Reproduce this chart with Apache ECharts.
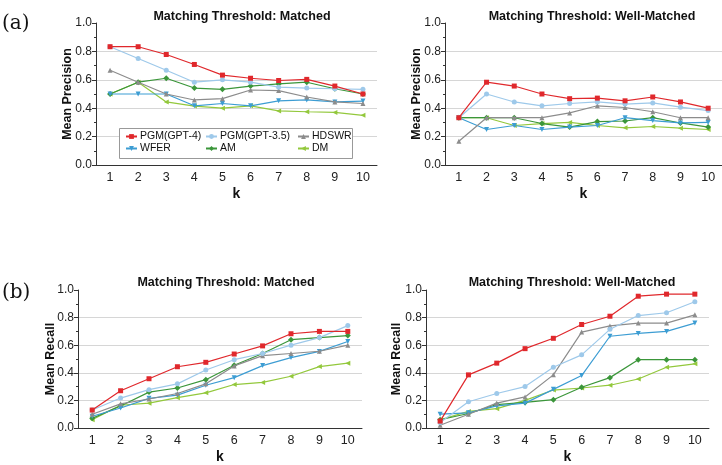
<!DOCTYPE html>
<html><head><meta charset="utf-8">
<script src="https://cdn.jsdelivr.net/npm/echarts@6/dist/echarts.min.js"></script>
<style>html,body{margin:0;padding:0;background:#fff}#c{width:722px;height:465px}</style>
</head><body><div id="c"></div>
<script>
// ---------- data ----------
const kLabels = ['1','2','3','4','5','6','7','8','9','10'];
const methodNames = ['PGM(GPT-4)','PGM(GPT-3.5)','HDSWR','WFER','AM','DM'];
const panelTitles = ['Matching Threshold: Matched','Matching Threshold: Well-Matched','Matching Threshold: Matched','Matching Threshold: Well-Matched'];
const yNames = ['Mean Precision','Mean Precision','Mean Recall','Mean Recall'];
const yTickLabels = ['0.0','0.2','0.4','0.6','0.8','1.0'];

// Precision, Matched
const precM_PGM4  = [0.833,0.833,0.778,0.708,0.633,0.611,0.595,0.603,0.556,0.500];
const precM_PGM35 = [0.833,0.750,0.667,0.583,0.600,0.583,0.548,0.542,0.537,0.533];
const precM_HDSWR = [0.667,0.583,0.500,0.458,0.467,0.528,0.524,0.479,0.444,0.433];
const precM_WFER  = [0.500,0.500,0.500,0.417,0.433,0.417,0.452,0.458,0.444,0.450];
const precM_AM    = [0.500,0.583,0.611,0.542,0.533,0.556,0.571,0.583,0.537,0.500];
const precM_DM    = [0.500,0.583,0.444,0.415,0.400,0.417,0.381,0.375,0.370,0.350];
// Precision, Well-Matched
const precW_PGM4  = [0.333,0.583,0.556,0.500,0.467,0.471,0.452,0.479,0.444,0.400];
const precW_PGM35 = [0.333,0.500,0.444,0.417,0.433,0.444,0.429,0.437,0.407,0.383];
const precW_HDSWR = [0.167,0.333,0.333,0.333,0.367,0.417,0.405,0.375,0.333,0.333];
const precW_WFER  = [0.333,0.250,0.278,0.250,0.267,0.278,0.333,0.313,0.296,0.300];
const precW_AM    = [0.333,0.333,0.333,0.292,0.267,0.306,0.310,0.333,0.296,0.267];
const precW_DM    = [0.333,0.333,0.278,0.292,0.300,0.278,0.262,0.271,0.259,0.250];
// Recall, Matched
const recM_PGM4  = [0.130,0.270,0.357,0.444,0.476,0.536,0.595,0.683,0.700,0.700];
const recM_PGM35 = [0.130,0.217,0.278,0.320,0.420,0.495,0.540,0.600,0.655,0.742];
const recM_HDSWR = [0.100,0.175,0.210,0.250,0.320,0.450,0.524,0.540,0.556,0.600];
const recM_WFER  = [0.085,0.145,0.215,0.238,0.310,0.365,0.452,0.510,0.555,0.627];
const recM_AM    = [0.070,0.160,0.260,0.290,0.350,0.455,0.540,0.640,0.655,0.670];
const recM_DM    = [0.060,0.165,0.180,0.220,0.255,0.315,0.330,0.375,0.445,0.470];
// Recall, Well-Matched
const recW_PGM4  = [0.050,0.385,0.470,0.575,0.650,0.750,0.810,0.955,0.970,0.970];
const recW_PGM35 = [0.040,0.190,0.250,0.300,0.440,0.530,0.715,0.815,0.835,0.915];
const recW_HDSWR = [0.020,0.100,0.180,0.225,0.385,0.695,0.740,0.760,0.760,0.820];
const recW_WFER  = [0.100,0.110,0.160,0.180,0.280,0.380,0.665,0.685,0.700,0.760];
const recW_AM    = [0.060,0.105,0.170,0.185,0.205,0.295,0.365,0.495,0.495,0.495];
const recW_DM    = [0.060,0.120,0.140,0.200,0.275,0.290,0.310,0.355,0.440,0.465];

const panels = [
  [precM_PGM4,precM_PGM35,precM_HDSWR,precM_WFER,precM_AM,precM_DM],
  [precW_PGM4,precW_PGM35,precW_HDSWR,precW_WFER,precW_AM,precW_DM],
  [recM_PGM4,recM_PGM35,recM_HDSWR,recM_WFER,recM_AM,recM_DM],
  [recW_PGM4,recW_PGM35,recW_HDSWR,recW_WFER,recW_AM,recW_DM]
];

// ---------- styles ----------
const FONT = 'Liberation Sans';
const colors = ['#e0282c','#9ec9ea','#8c8c8c','#3d9dd3','#3b963a','#93c83c'];
const symbols = ['rect','circle','triangle','path://M0,0 L10,0 L5,10 Z','diamond','path://M10,0 L10,10 L0,5 Z'];
const symSizes = [5,5,5,5,6,5];

const grids = [
  {left:96,  top:23,  width:281, height:142},
  {left:445, top:23,  width:282, height:142},
  {left:78,  top:290, width:284, height:142},
  {left:426, top:290, width:283, height:142}
];
const titlePos = [[237,5],[587,5],[221,271],[567,271]];
const yNameGap = [22,22,21,23];

const chart = echarts.init(document.getElementById('c'), null, {renderer:'canvas'});

const xAxes = [], yAxes = [], series = [], titles = [];
grids.forEach((g, i) => {
  titles.push({text: panelTitles[i], left: titlePos[i][0], top: titlePos[i][1], textAlign:'center',
    textStyle:{fontFamily:FONT, fontSize:12.5, fontWeight:'bold', color:'#111'}});
  xAxes.push({type:'category', gridIndex:i, data:kLabels, boundaryGap:true,
    axisLine:{lineStyle:{color:'#333', width:1}},
    axisTick:{alignWithLabel:true, length:4, lineStyle:{color:'#333'}},
    axisLabel:{fontFamily:FONT, fontSize:12.5, color:'#222', margin:6},
    name:'k', nameLocation:'middle', nameGap:22, nameMoveOverlap:false,
    nameTextStyle:{fontFamily:FONT, fontSize:14, fontWeight:'bold', color:'#111'}});
  yAxes.push({type:'value', gridIndex:i, min:0, max:1, interval:0.2,
    axisLine:{show:true, lineStyle:{color:'#333', width:1}},
    axisTick:{show:true, length:4, lineStyle:{color:'#333'}},
    minorTick:{show:true, splitNumber:2, length:2, lineStyle:{color:'#333'}},
    axisLabel:{fontFamily:FONT, fontSize:12, color:'#222', margin:4,
      formatter:(v)=>yTickLabels[Math.round(v/0.2)]},
    splitLine:{show:true, showMinLine:false, showMaxLine:false, lineStyle:{color:'#d6d6d6', width:1}},
    name:yNames[i], nameLocation:'middle', nameGap:yNameGap[i], nameMoveOverlap:false,
    nameTextStyle:{fontFamily:FONT, fontSize:12.5, fontWeight:'bold', color:'#111'}});
  panels[i].forEach((arr, s) => {
    series.push({type:'line', name:methodNames[s], xAxisIndex:i, yAxisIndex:i, data:arr,
      symbol:symbols[s], symbolSize:symSizes[s], showSymbol:true,
      lineStyle:{color:colors[s], width:1.2}, itemStyle:{color:colors[s]},
      emphasis:{disabled:true}, animation:false, z: 10-s});
  });
});

const legendCommon = {orient:'vertical', itemWidth:11, itemHeight:6, itemGap:1, z:20,
  textStyle:{fontFamily:FONT, fontSize:10.5, color:'#111', padding:[0,0,0,-2]}, padding:0, selectedMode:false};
const legends = [
  Object.assign({}, legendCommon, {left:125, top:131, data:['PGM(GPT-4)','WFER']}),
  Object.assign({}, legendCommon, {left:205, top:131, data:['PGM(GPT-3.5)','AM']}),
  Object.assign({}, legendCommon, {left:297, top:131, data:['HDSWR','DM']})
];

chart.setOption({
  animation:false,
  title: titles,
  grid: grids,
  xAxis: xAxes,
  yAxis: yAxes,
  legend: legends,
  series: series,
  graphic: [
    {type:'rect', shape:{x:119.5, y:128.5, width:233, height:30}, style:{fill:'#fff', stroke:'#999', lineWidth:1}, z:1},
    {type:'text', left:2, top:14, style:{text:'(a)', font:'20px "DejaVu Serif"', fill:'#111'}},
    {type:'text', left:2, top:283, style:{text:'(b)', font:'20px "DejaVu Serif"', fill:'#111'}}
  ]
});
</script></body></html>
